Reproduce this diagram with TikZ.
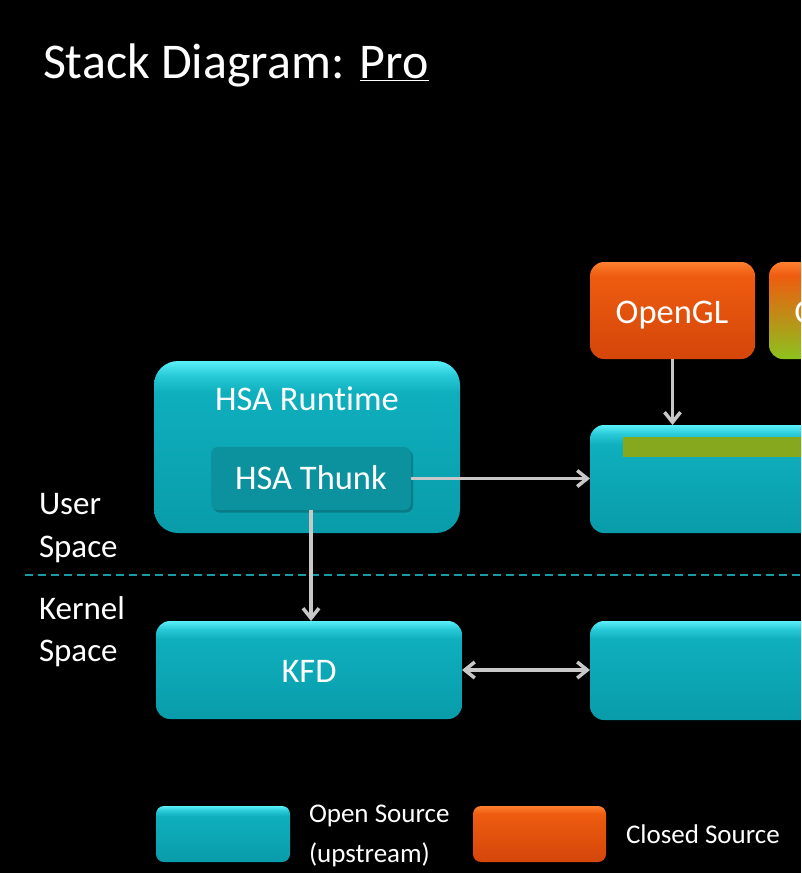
\documentclass[tikz,border=0pt]{standalone}
\usepackage{fontspec}
\setmainfont{Carlito}[Ligatures=NoCommon]
\usetikzlibrary{arrows.meta}
\definecolor{tealB}{HTML}{099CAA}
\definecolor{tealM}{HTML}{0FAFBE}
\definecolor{tealH}{HTML}{2ACBD8}
\definecolor{tealL}{HTML}{5AF0FA}
\definecolor{thunk}{HTML}{0C929E}
\definecolor{oraB}{HTML}{D4460A}
\definecolor{oraM}{HTML}{EE5C10}
\definecolor{oraL}{HTML}{FF8030}
\definecolor{grnB}{HTML}{8CC21E}
\definecolor{barG}{HTML}{86A81E}
\definecolor{arrowgray}{HTML}{C8C8C8}
\definecolor{dashteal}{HTML}{1A9AA6}
\pgfdeclareverticalshading{tealshade}{100bp}{color(0bp)=(tealB); color(25bp)=(tealB); color(66bp)=(tealM); color(71bp)=(tealH); color(75bp)=(tealL); color(100bp)=(tealL)}
\pgfdeclareverticalshading{orashade}{100bp}{color(0bp)=(oraB); color(25bp)=(oraB); color(68bp)=(oraM); color(75bp)=(oraL); color(100bp)=(oraL)}
\pgfdeclareverticalshading{mixshade}{100bp}{color(0bp)=(grnB); color(25bp)=(grnB); color(55bp)=(oraM!70!grnB); color(68bp)=(oraM); color(75bp)=(oraL); color(100bp)=(oraL)}
\tikzset{
  every node/.style={inner sep=0pt, outer sep=0pt},
  tealbox/.style={shading=tealshade, rounded corners=14pt},
  orabox/.style={shading=orashade, rounded corners=14pt},
  mixbox/.style={shading=mixshade, rounded corners=14pt},
  boxtext/.style={text=white, font=\fontsize{34.5}{40}\selectfont},
  sidetext/.style={text=white, font=\fontsize{33}{38}\selectfont, anchor=base west},
  legtext/.style={text=white, font=\fontsize{27}{32}\selectfont, anchor=base west},
  conn/.style={draw=arrowgray, line width=3.5pt, -{Straight Barb[length=10pt,width=16pt,line width=3.5pt]}},
  conn2/.style={draw=arrowgray, line width=3.5pt, {Straight Barb[length=10pt,width=16pt,line width=3.5pt]}-{Straight Barb[length=10pt,width=16pt,line width=3.5pt]}},
}
\begin{document}
\begin{tikzpicture}[x=1pt,y=-1pt]
\useasboundingbox (0,0) rectangle (801,873);
\fill[black] (0,0) rectangle (801,873);
\clip (0,0) rectangle (801,873);

% title
\node[anchor=base west, text=white, font=\fontsize{50}{56}\selectfont] (title) at (43,78) {Stack Diagram: \underline{Pro}};

% dashed separator
\coordinate (dL) at (25,575);
\coordinate (dR) at (801,575);
\draw[dashteal, line width=1.6pt, dash pattern=on 8pt off 5pt] (dL) -- (dR);

% side labels
\node[sidetext] (user1) at (39,514) {User};
\node[sidetext] (user2) at (39,557) {Space};
\node[sidetext] (kern1) at (39,619) {Kernel};
\node[sidetext] (kern2) at (39,661) {Space};

% HSA Runtime box
\node[tealbox, rounded corners=24pt, minimum width=306pt, minimum height=172pt] (rt) at (307,447) {};
\node[boxtext, anchor=base] (rtl) at (307,410) {HSA Runt\kern0pt ime};
\node[fill=black!60!thunk, rounded corners=7pt, minimum width=200pt, minimum height=63pt, opacity=0.35] (thunksh) at (313,481) {};
\node[fill=thunk, rounded corners=7pt, minimum width=200pt, minimum height=63pt] (thunk) at (311,478.5) {};
\node[boxtext, anchor=base] (thunkl) at (311,489) {HSA Thunk};

% OpenGL / OpenCL
\node[orabox, minimum width=165pt, minimum height=97pt] (gl) at (672.5,310.5) {};
\node[boxtext, anchor=base] (gll) at (672,323) {OpenGL};
\node[mixbox, minimum width=165pt, minimum height=97pt] (cl) at (851.5,310.5) {};
\node[boxtext, anchor=base] (cll) at (849,323) {OpenCL};

% right user-space box
\node[tealbox, minimum width=330pt, minimum height=108pt] (ud) at (755,479) {};
\node[fill=barG, minimum width=300pt, minimum height=20pt] (bar) at (773,447) {};

% KFD
\node[tealbox, minimum width=306pt, minimum height=98pt] (kfd) at (309,670) {};
\node[boxtext, anchor=base] (kfdl) at (309,682) {KFD};

% right kernel box
\node[tealbox, minimum width=330pt, minimum height=99pt] (kd) at (755,670.5) {};

% connectors
\draw[conn] (thunk.east) -- (thunk.east -| ud.west);
\draw[conn] (thunk.south) -- (thunk.south |- kfd.north);
\draw[conn] (gl.south) -- (gl.south |- ud.north);
\draw[conn2] (kfd.east) -- (kfd.east -| kd.west);

% legend
\node[tealbox, rounded corners=8pt, minimum width=134pt, minimum height=56pt] (legO) at (223,834) {};
\node[legtext] (legO1) at (309,822) {Open Source};
\node[legtext] (legO2) at (309,862) {(upstream)};
\node[orabox, rounded corners=8pt, minimum width=133pt, minimum height=56pt] (legC) at (539.5,834) {};
\node[legtext] (legC1) at (626,843) {Closed Source};
\end{tikzpicture}
\end{document}
